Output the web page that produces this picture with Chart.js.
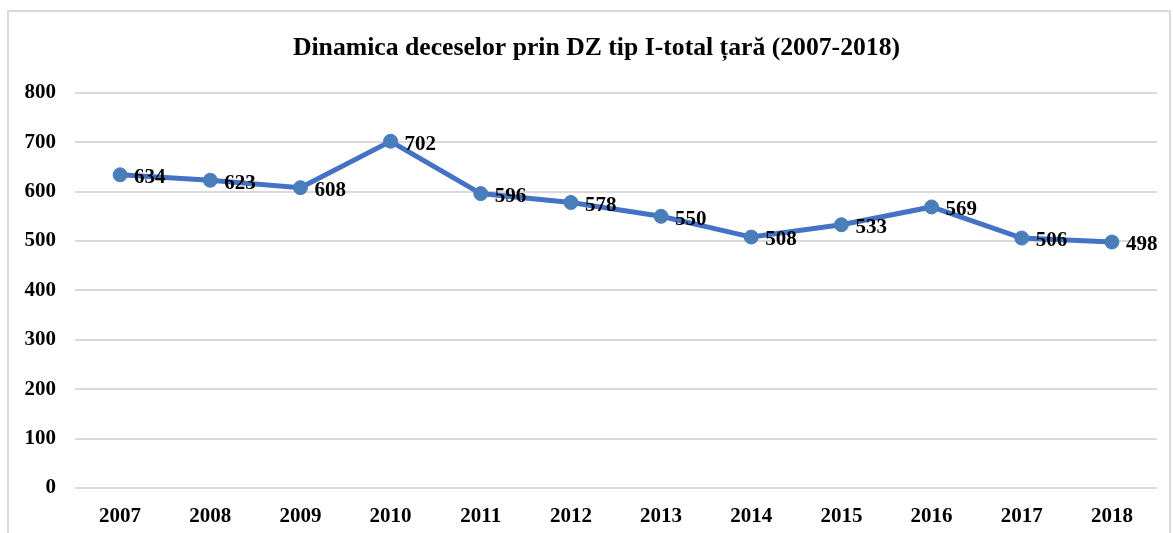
<!DOCTYPE html>
<html><head><meta charset="utf-8">
<script src="https://cdn.jsdelivr.net/npm/chart.js@4.4.1/dist/chart.umd.min.js"></script>
<style>html,body{margin:0;padding:0;background:#fff}#w{width:1173px;height:533px;position:relative}</style>
</head><body><div id="w"><canvas id="c" width="1173" height="533"></canvas></div>
<script>
const titleText = 'Dinamica deceselor prin DZ tip I-total țară (2007-2018)';
const years = ['2007','2008','2009','2010','2011','2012','2013','2014','2015','2016','2017','2018'];
const deaths = [634, 623, 608, 702, 596, 578, 550, 508, 533, 569, 506, 498];
const yTicks = [0, 100, 200, 300, 400, 500, 600, 700, 800];

const FONT = '"Liberation Serif", "Times New Roman", serif';

const frame = {
  id: 'frame',
  afterLayout(chart) {
    const t = chart.titleBlock;
    if (t) { t.left += 21; }
  },
  beforeDraw(chart) {
    const ctx = chart.ctx;
    ctx.save();
    ctx.strokeStyle = '#d9d9d9';
    ctx.lineWidth = 2;
    ctx.strokeRect(8, 11, 1162, 560);
    ctx.restore();
  }
};
const labels = {
  id: 'labels',
  afterDatasetsDraw(chart) {
    const ctx = chart.ctx;
    const meta = chart.getDatasetMeta(0);
    ctx.save();
    ctx.font = 'bold 21px ' + FONT;
    ctx.fillStyle = '#000';
    ctx.textAlign = 'left';
    ctx.textBaseline = 'middle';
    meta.data.forEach((pt, i) => {
      ctx.fillText(String(deaths[i]), pt.x + 14, pt.y + 3);
    });
    ctx.restore();
  }
};

new Chart(document.getElementById('c'), {
  type: 'line',
  data: {
    labels: years,
    datasets: [{
      data: deaths,
      borderColor: '#4472C4',
      borderWidth: 5,
      pointRadius: 7,
      pointHoverRadius: 7,
      pointBackgroundColor: '#4A7EBB',
      pointBorderColor: '#4A7EBB',
      pointBorderWidth: 1,
      tension: 0
    }]
  },
  options: {
    responsive: false,
    animation: false,
    devicePixelRatio: 1,
    layout: { padding: { left: 15, right: 16, top: 0, bottom: 0 } },
    plugins: {
      legend: { display: false },
      tooltip: { enabled: false },
      title: {
        display: true,
        text: titleText,
        color: '#000',
        font: { family: FONT, size: 25.7, weight: 'bold', lineHeight: 1.2 },
        padding: { top: 33, bottom: 29 }
      }
    },
    scales: {
      x: {
        offset: true,
        grid: { display: false, drawTicks: false },
        border: { display: false },
        ticks: { color: '#000', font: { family: FONT, size: 21, weight: 'bold' }, padding: 16, maxRotation: 0 },
        afterFit(s) { s.height = 45; }
      },
      y: {
        min: 0, max: 800,
        afterBuildTicks(s) { s.ticks = yTicks.map(v => ({ value: v })); },
        grid: { color: '#d9d9d9', lineWidth: 2, drawTicks: false },
        border: { display: false },
        ticks: { color: '#000', font: { family: FONT, size: 21, weight: 'bold' }, padding: 19 },
        afterFit(s) { s.width = 60; }
      }
    }
  },
  plugins: [frame, labels]
});
</script>
</body></html>
